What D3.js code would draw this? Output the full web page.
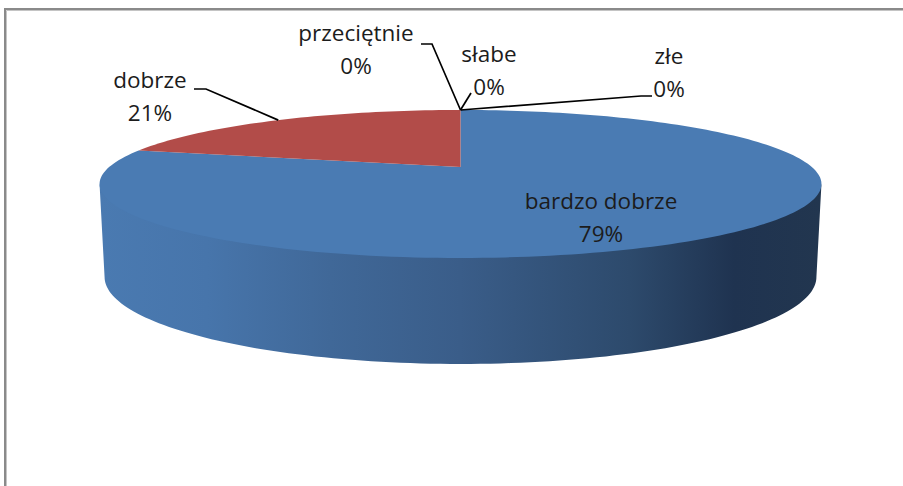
<!DOCTYPE html>
<html>
<head>
<meta charset="utf-8">
<script src="https://cdn.jsdelivr.net/npm/d3@7"></script>
<style>
    body { margin: 0; background: #fff; }
    svg { display: block; }
</style>
</head>
<body>
<div id="chart"></div>
<script>
// chart data
const categories = ["bardzo dobrze", "dobrze", "przeciętnie", "słabe", "złe"];
const values = [79, 21, 0, 0, 0];
const percent_labels = ["79%", "21%", "0%", "0%", "0%"];
const slice_colors = ["#4a7bb3", "#b24c49", "#9bbb59", "#8064a2", "#4bacc6"];

// label layout (first line baseline, center x, optional leader start)
const label_layout = [
    {x: 601, y: 209, leader: null},
    {x: 150, y: 88, leader: [[194, 89], [206, 89]]},
    {x: 356, y: 41, leader: [[421, 44], [432, 44]]},
    {x: 489, y: 62, leader: [[471, 93]]},
    {x: 669, y: 64, leader: [[652, 96], [641, 96]]}
];

const width = 903;
const height = 486;

// perspective of the pie disc
const top_face = {cx: 460.5, cy: 167, a: 351.3, b: 70.1};
const bottom_face = {cx: 460.5, cy: 257, a: 346.4, b: 82.4};
const k = 0.2297;

function project(face, theta) {
    const s = Math.sin(theta);
    const c = Math.cos(theta);
    const d = 1 + k * c;
    return [face.cx + face.a * s / d, face.cy - face.b * c / d];
}

function arc_points(face, a0, a1, n) {
    const pts = [];
    for (let i = 0; i <= n; i++) {
        pts.push(project(face, a0 + (a1 - a0) * i / n));
    }
    return pts;
}

const svg = d3.select("#chart").append("svg")
    .attr("width", width)
    .attr("height", height);

svg.append("rect")
    .attr("width", width)
    .attr("height", height)
    .attr("fill", "#fff");

// frame
svg.append("path")
    .attr("d", `M5,${height} V9 H${width}`)
    .attr("fill", "none")
    .attr("stroke", "#8a8a8a")
    .attr("stroke-width", 2);
svg.append("path")
    .attr("d", `M6.5,${height} V10.5 H${width}`)
    .attr("fill", "none")
    .attr("stroke", "#c4c4c4")
    .attr("stroke-width", 1);

// side gradient
const defs = svg.append("defs");
const grad = defs.append("linearGradient")
    .attr("id", "side_grad")
    .attr("gradientUnits", "userSpaceOnUse")
    .attr("x1", 99).attr("x2", 821)
    .attr("y1", 0).attr("y2", 0);
[
    [0, "#4a7ab1"], [0.15, "#4775ab"], [0.32, "#406898"], [0.5, "#3a5d89"],
    [0.735, "#2d4a6c"], [0.88, "#1f3350"], [1, "#22364f"]
].forEach(s => grad.append("stop").attr("offset", s[0]).attr("stop-color", s[1]));

const pie = d3.pie().sort(null).value(d => d).startAngle(0).endAngle(2 * Math.PI);
const arcs = pie(values);

const line = d3.line();

// visible front wall (top edge lifted a little so the top face overlaps it)
const theta_r = Math.acos(-k);
const theta_l = 2 * Math.PI - theta_r;
const side_top = arc_points(top_face, theta_r, theta_l, 120)
    .map((p, i, arr) => (i === 0 || i === arr.length - 1) ? p : [p[0], p[1] - 2]);
const side_pts = side_top.concat(arc_points(bottom_face, theta_l, theta_r, 120));
svg.append("path")
    .attr("d", line(side_pts) + "Z")
    .attr("fill", "url(#side_grad)");

// top face slices
svg.append("g")
    .selectAll("path")
    .data(arcs.filter(d => d.endAngle > d.startAngle))
    .join("path")
    .attr("d", d => {
        const n = Math.max(2, Math.ceil((d.endAngle - d.startAngle) * 40));
        const pts = [[top_face.cx, top_face.cy]].concat(arc_points(top_face, d.startAngle, d.endAngle, n));
        return line(pts) + "Z";
    })
    .attr("fill", (d, i) => slice_colors[i]);

// leader lines
svg.append("g")
    .selectAll("path")
    .data(arcs.filter((d, i) => label_layout[i].leader))
    .join("path")
    .attr("d", d => {
        const mid = (d.startAngle + d.endAngle) / 2;
        const pts = label_layout[d.index].leader.concat([project(top_face, mid)]);
        return line(pts);
    })
    .attr("fill", "none")
    .attr("stroke", "#000")
    .attr("stroke-width", 1.7);

// labels
const labels = svg.append("g")
    .attr("font-family", "'Open Sans', 'Noto Sans', sans-serif")
    .attr("font-size", 22.5)
    .attr("fill", "#1c1c1c")
    .attr("text-anchor", "middle")
    .selectAll("text")
    .data(categories)
    .join("text")
    .attr("x", (d, i) => label_layout[i].x)
    .attr("y", (d, i) => label_layout[i].y);

labels.append("tspan")
    .attr("x", (d, i) => label_layout[i].x)
    .text(d => d);
labels.append("tspan")
    .attr("x", (d, i) => label_layout[i].x)
    .attr("dy", 33)
    .text((d, i) => percent_labels[i]);
</script>
</body>
</html>
